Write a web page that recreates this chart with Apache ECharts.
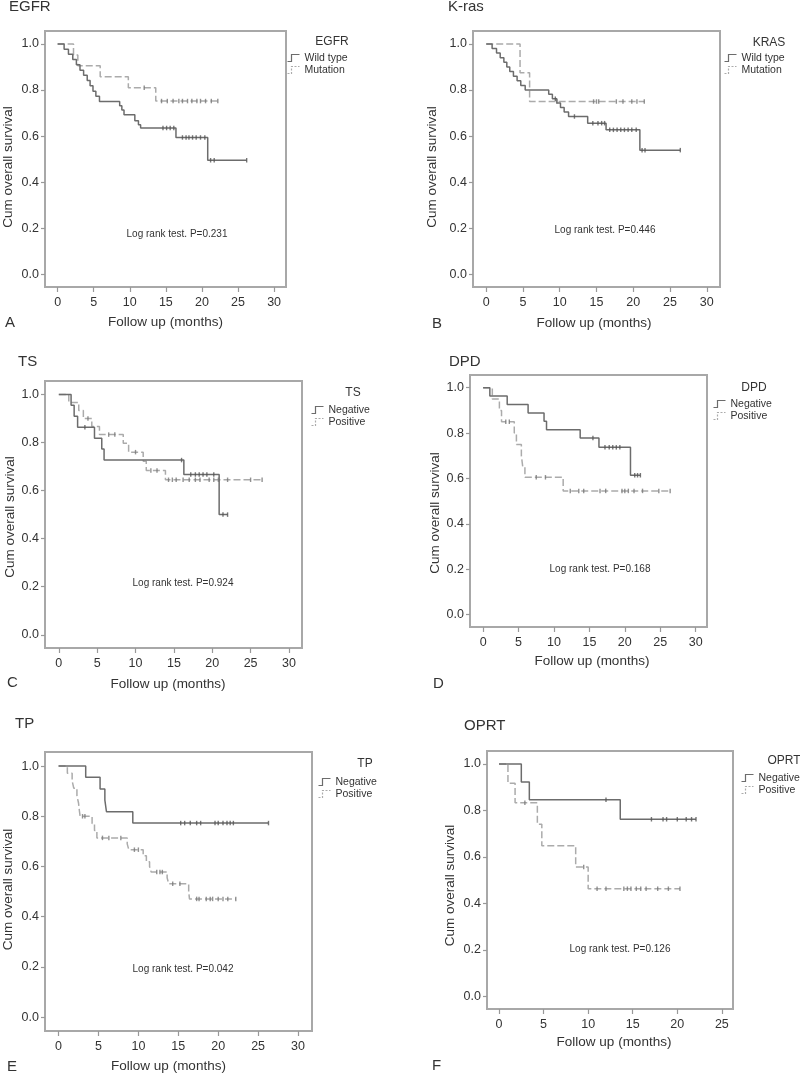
<!DOCTYPE html>
<html><head><meta charset="utf-8">
<script src="https://cdn.jsdelivr.net/npm/echarts@6/dist/echarts.min.js"></script>
<style>html,body{margin:0;padding:0;background:#fff}#c{width:800px;height:1074px}</style>
</head><body><div id="c"></div>
<script>
// ---------------- DATA ----------------
const panelTitles = ['EGFR', 'K-ras', 'TS', 'DPD', 'TP', 'OPRT'];
const legendTitles = ['EGFR', 'KRAS', 'TS', 'DPD', 'TP', 'OPRT'];
const panelLetters = ['A', 'B', 'C', 'D', 'E', 'F'];
const groupNames = [['Wild type', 'Mutation'], ['Wild type', 'Mutation'], ['Negative', 'Positive'], ['Negative', 'Positive'], ['Negative', 'Positive'], ['Negative', 'Positive']];
const logRankTexts = ['Log rank test. P=0.231', 'Log rank test. P=0.446', 'Log rank test. P=0.924', 'Log rank test. P=0.168', 'Log rank test. P=0.042', 'Log rank test. P=0.126'];
const xAxisTitle = 'Follow up (months)';
const yAxisTitle = 'Cum overall survival';
const xTicks30 = [0, 5, 10, 15, 20, 25, 30];
const xTicks25 = [0, 5, 10, 15, 20, 25];
const yTicks = [0, 0.2, 0.4, 0.6, 0.8, 1.0];

// A: EGFR
const egfrWildTime = [0, 0.9, 1.5, 2.1, 2.6, 3.1, 3.6, 4.1, 4.5, 4.9, 5.3, 5.8, 8.6, 8.9, 9.2, 10.7, 11.2, 11.5, 16.4, 20.8, 26.2];
const egfrWildSurv = [1, 0.977, 0.955, 0.932, 0.909, 0.886, 0.864, 0.841, 0.818, 0.795, 0.773, 0.750, 0.732, 0.713, 0.692, 0.666, 0.649, 0.635, 0.594, 0.495, 0.495];
const egfrWildCensor = [[14.6, 0.635], [15.1, 0.635], [15.6, 0.635], [16.1, 0.635], [17.3, 0.594], [17.8, 0.594], [18.2, 0.594], [18.7, 0.594], [19.2, 0.594], [19.8, 0.594], [20.4, 0.594], [21.2, 0.495], [21.7, 0.495], [26.2, 0.495]];
const egfrMutTime = [0, 2.2, 2.8, 5.9, 9.8, 13.6, 22.2];
const egfrMutSurv = [1, 0.952, 0.905, 0.857, 0.810, 0.752, 0.752];
const egfrMutCensor = [[12.0, 0.810], [14.4, 0.752], [15.2, 0.752], [16.0, 0.752], [16.8, 0.752], [17.3, 0.752], [18.0, 0.752], [18.6, 0.752], [19.3, 0.752], [19.8, 0.752], [20.5, 0.752], [21.3, 0.752], [22.2, 0.752]];

// B: K-ras
const krasWildTime = [0, 0.8, 1.4, 1.9, 2.4, 2.8, 3.2, 3.7, 4.2, 4.7, 5.3, 8.5, 9.0, 9.6, 10.1, 10.6, 11.2, 13.8, 16.3, 20.9, 26.4];
const krasWildSurv = [1, 0.98, 0.96, 0.94, 0.92, 0.90, 0.88, 0.86, 0.84, 0.82, 0.80, 0.781, 0.762, 0.743, 0.724, 0.705, 0.685, 0.656, 0.627, 0.539, 0.539];
const krasWildCensor = [[9.4, 0.762], [12.0, 0.685], [14.5, 0.656], [15.2, 0.656], [15.7, 0.656], [16.1, 0.656], [16.8, 0.627], [17.3, 0.627], [17.8, 0.627], [18.3, 0.627], [18.8, 0.627], [19.3, 0.627], [19.8, 0.627], [20.4, 0.627], [21.2, 0.539], [21.6, 0.539], [26.4, 0.539]];
const krasMutTime = [0, 4.6, 5.9, 21.5];
const krasMutSurv = [1, 0.875, 0.75, 0.75];
const krasMutCensor = [[9.6, 0.75], [14.6, 0.75], [15.0, 0.75], [15.3, 0.75], [17.7, 0.75], [18.6, 0.75], [19.8, 0.75], [20.5, 0.75], [21.5, 0.75]];

// C: TS
const tsNegTime = [0, 1.6, 2.0, 2.45, 4.65, 5.6, 5.9, 16.3, 20.9, 22.0];
const tsNegSurv = [1, 0.955, 0.909, 0.864, 0.818, 0.773, 0.727, 0.667, 0.500, 0.500];
const tsNegCensor = [[3.4, 0.864], [16.0, 0.727], [17.2, 0.667], [17.8, 0.667], [18.3, 0.667], [18.8, 0.667], [19.3, 0.667], [20.2, 0.667], [21.4, 0.500], [22.0, 0.500]];
const tsPosTime = [0, 1.3, 2.6, 3.2, 4.3, 5.3, 8.4, 9.1, 11.0, 11.4, 13.9, 26.5];
const tsPosSurv = [1, 0.967, 0.933, 0.900, 0.867, 0.833, 0.797, 0.760, 0.722, 0.684, 0.645, 0.645];
const tsPosCensor = [[3.8, 0.900], [6.5, 0.833], [7.3, 0.833], [10.0, 0.760], [12.0, 0.684], [12.8, 0.684], [14.3, 0.645], [14.8, 0.645], [15.3, 0.645], [16.2, 0.645], [17.0, 0.645], [17.8, 0.645], [18.4, 0.645], [19.6, 0.645], [20.2, 0.645], [20.8, 0.645], [22.0, 0.645], [25.0, 0.645], [26.5, 0.645]];

// D: DPD
const dpdNegTime = [0, 0.95, 3.4, 6.35, 8.6, 8.95, 13.7, 16.35, 20.8, 22.2];
const dpdNegSurv = [1, 0.963, 0.926, 0.889, 0.852, 0.815, 0.778, 0.737, 0.614, 0.614];
const dpdNegCensor = [[15.5, 0.778], [17.2, 0.737], [17.8, 0.737], [18.3, 0.737], [18.8, 0.737], [19.3, 0.737], [21.4, 0.614], [21.8, 0.614], [22.2, 0.614]];
const dpdPosTime = [0, 1.3, 2.3, 2.6, 4.4, 4.7, 5.4, 5.6, 5.9, 11.3, 26.4];
const dpdPosSurv = [1, 0.95, 0.90, 0.85, 0.80, 0.75, 0.70, 0.65, 0.605, 0.545, 0.545];
const dpdPosCensor = [[3.2, 0.85], [3.7, 0.85], [7.5, 0.605], [8.8, 0.605], [12.3, 0.545], [13.5, 0.545], [14.2, 0.545], [16.5, 0.545], [17.3, 0.545], [19.6, 0.545], [20.0, 0.545], [20.5, 0.545], [21.3, 0.545], [22.5, 0.545], [24.8, 0.545], [26.4, 0.545]];

// E: TP
const tpNegTime = [0, 3.4, 5.2, 5.8, 6.0, 9.3, 26.3];
const tpNegSurv = [1, 0.955, 0.909, 0.864, 0.818, 0.773, 0.773];
const tpNegCensor = [[15.3, 0.773], [15.8, 0.773], [16.5, 0.773], [17.3, 0.773], [17.8, 0.773], [19.6, 0.773], [20.0, 0.773], [20.6, 0.773], [21.1, 0.773], [21.5, 0.773], [21.9, 0.773], [26.3, 0.773]];
const tpPosTime = [0, 1.1, 1.7, 1.9, 2.3, 2.5, 2.6, 2.7, 4.2, 4.5, 4.8, 8.6, 8.8, 10.6, 11.0, 11.4, 11.6, 13.6, 13.8, 16.3, 16.4, 22.2];
const tpPosSurv = [1, 0.971, 0.941, 0.912, 0.882, 0.853, 0.824, 0.800, 0.771, 0.743, 0.714, 0.690, 0.667, 0.643, 0.619, 0.600, 0.578, 0.555, 0.531, 0.500, 0.471, 0.471];
const tpPosCensor = [[3.0, 0.800], [3.3, 0.800], [5.5, 0.714], [6.3, 0.714], [7.8, 0.714], [9.5, 0.667], [10.0, 0.667], [12.3, 0.578], [12.7, 0.578], [13.0, 0.578], [14.3, 0.531], [15.2, 0.531], [17.3, 0.471], [17.6, 0.471], [18.5, 0.471], [19.0, 0.471], [19.3, 0.471], [20.0, 0.471], [20.6, 0.471], [21.2, 0.471], [22.2, 0.471]];

// F: OPRT
const oprtNegTime = [0, 2.5, 3.4, 13.6, 22.1];
const oprtNegSurv = [1, 0.923, 0.846, 0.762, 0.762];
const oprtNegCensor = [[12.0, 0.846], [17.1, 0.762], [18.4, 0.762], [18.8, 0.762], [20.0, 0.762], [21.0, 0.762], [21.6, 0.762], [22.1, 0.762]];
const oprtPosTime = [0, 1.0, 1.8, 4.3, 4.8, 8.6, 10.0, 20.3];
const oprtPosSurv = [1, 0.917, 0.833, 0.741, 0.648, 0.556, 0.463, 0.463];
const oprtPosCensor = [[2.9, 0.833], [9.5, 0.556], [11.0, 0.463], [12.0, 0.463], [14.0, 0.463], [14.4, 0.463], [14.8, 0.463], [15.4, 0.463], [15.9, 0.463], [16.5, 0.463], [17.8, 0.463], [19.0, 0.463], [20.3, 0.463]];

const curves = [
  [[egfrWildTime, egfrWildSurv, egfrWildCensor], [egfrMutTime, egfrMutSurv, egfrMutCensor]],
  [[krasWildTime, krasWildSurv, krasWildCensor], [krasMutTime, krasMutSurv, krasMutCensor]],
  [[tsNegTime, tsNegSurv, tsNegCensor], [tsPosTime, tsPosSurv, tsPosCensor]],
  [[dpdNegTime, dpdNegSurv, dpdNegCensor], [dpdPosTime, dpdPosSurv, dpdPosCensor]],
  [[tpNegTime, tpNegSurv, tpNegCensor], [tpPosTime, tpPosSurv, tpPosCensor]],
  [[oprtNegTime, oprtNegSurv, oprtNegCensor], [oprtPosTime, oprtPosSurv, oprtPosCensor]]
];

// ---------------- LAYOUT ----------------
const FONT = '"Liberation Sans", Arial, sans-serif';
const TXT = '#333';
const layouts = [
  { grid: [43, 31, 243, 256], x: [-1.75, 31.65], xt: xTicks30, xGap: 28, xShift: 0, yGap: 30, yShift: 8,
    title: [9, 7], letter: [5, 323], logrank: [177, 234], legT: [332, 42], leg: [285, 52] },
  { grid: [473, 31, 247, 256], x: [-1.8, 31.8], xt: xTicks30, xGap: 29, xShift: -2.5, yGap: 34, yShift: 8,
    title: [448, 7], letter: [432, 324], logrank: [605, 230], legT: [769, 43], leg: [722, 52] },
  { grid: [45, 381, 257, 267], x: [-1.8, 31.7], xt: xTicks30, xGap: 29, xShift: -5.5, yGap: 28, yShift: 2.5,
    title: [18, 362], letter: [7, 683], logrank: [183, 583], legT: [353, 393], leg: [309, 404] },
  { grid: [470, 375, 237, 252], x: [-1.85, 31.6], xt: xTicks30, xGap: 27, xShift: 3.5, yGap: 28, yShift: 12,
    title: [449, 362], letter: [433, 684], logrank: [600, 569], legT: [754, 388], leg: [711, 398] },
  { grid: [44, 752, 268, 280], x: [-1.7, 31.75], xt: xTicks30, xGap: 28, xShift: -10, yGap: 30, yShift: -2,
    title: [15, 724], letter: [7, 1067], logrank: [183, 969], legT: [365, 764], leg: [316, 776] },
  { grid: [487, 751, 246, 258], x: [-1.35, 26.25], xt: xTicks25, xGap: 26, xShift: 4, yGap: 30, yShift: 5.5,
    title: [464, 726], letter: [432, 1066], logrank: [620, 949], legT: [784, 761], leg: [739, 772] }
];
const yRange = [-0.055, 1.056];
const lineColors = ['#6c6c6c', '#ababab'];
const lineTypes = ['solid', [7, 3]];
const legendIcon = 'path://M0,8 L4,8 L4,1 L12,1';

const grids = [], xAxes = [], yAxes = [], series = [], legends = [], graphics = [];
layouts.forEach((L, i) => {
  grids.push({ left: L.grid[0], top: L.grid[1], width: L.grid[2], height: L.grid[3], show: true,
    borderColor: '#a8a8a8', borderWidth: 2, backgroundColor: 'transparent', containLabel: false });
  const xs = L.xShift, ys = L.yShift;
  xAxes.push({ type: 'value', gridIndex: i, min: L.x[0], max: L.x[1],
    axisLine: { show: false, onZero: false },
    axisTick: { show: true, length: 5, customValues: L.xt, lineStyle: { color: '#999', width: 1.2 } },
    axisLabel: { customValues: L.xt, margin: 9, fontSize: 12.5, color: TXT, fontFamily: FONT },
    splitLine: { show: false },
    name: xAxisTitle, nameLocation: 'middle', nameGap: L.xGap,
    nameTextStyle: { fontSize: 13.5, color: TXT, fontFamily: FONT,
      padding: xs < 0 ? [0, -2 * xs, 0, 0] : [0, 0, 0, 2 * xs] } });
  yAxes.push({ type: 'value', gridIndex: i, min: yRange[0], max: yRange[1],
    axisLine: { show: false, onZero: false },
    axisTick: { show: true, length: 4, customValues: yTicks, lineStyle: { color: '#999', width: 1.2 } },
    axisLabel: { customValues: yTicks, margin: 6, fontSize: 12.5, color: TXT, fontFamily: FONT,
      formatter: v => v.toFixed(1) },
    splitLine: { show: false },
    name: yAxisTitle, nameLocation: 'middle', nameGap: L.yGap,
    nameTextStyle: { fontSize: 13.5, color: TXT, fontFamily: FONT,
      padding: ys > 0 ? [0, 2 * ys, 0, 0] : [0, 0, 0, -2 * ys] } });

  curves[i].forEach((c, k) => {
    const name = groupNames[i][k];
    series.push({ type: 'line', name: name, xAxisIndex: i, yAxisIndex: i, step: 'end',
      symbol: 'none', showSymbol: false, silent: true,
      data: c[0].map((t, j) => [t, c[1][j]]),
      lineStyle: { color: lineColors[k], width: 1.5, type: lineTypes[k] },
      itemStyle: { color: lineColors[k] }, z: 3 - k });
    series.push({ type: 'scatter', name: name + ' censored', xAxisIndex: i, yAxisIndex: i,
      symbol: 'rect', symbolSize: [1.4, 4.5], silent: true, data: c[2],
      itemStyle: { color: k === 0 ? '#555' : '#777' }, z: 4 });
  });

  legends.push({ left: L.leg[0], top: L.leg[1], orient: 'vertical', padding: 0, itemGap: 0,
    itemWidth: 12, itemHeight: 8, selectedMode: false,
    textStyle: { fontSize: 10.5, color: TXT, fontFamily: FONT, lineHeight: 10 },
    data: groupNames[i].map((n, k) => ({ name: n, icon: legendIcon,
      itemStyle: { color: 'none', borderColor: lineColors[k], borderWidth: 1.2,
        borderType: k === 0 ? 'solid' : [2, 1.5] } })) });

  graphics.push({ type: 'text', x: L.title[0], y: L.title[1],
    style: { text: panelTitles[i], fill: TXT, font: '15px ' + FONT, align: 'left', verticalAlign: 'middle' } });
  graphics.push({ type: 'text', x: L.letter[0], y: L.letter[1],
    style: { text: panelLetters[i], fill: TXT, font: '15px ' + FONT, align: 'left', verticalAlign: 'middle' } });
  graphics.push({ type: 'text', x: L.logrank[0], y: L.logrank[1],
    style: { text: logRankTexts[i], fill: TXT, font: '10px ' + FONT, align: 'center', verticalAlign: 'middle' } });
  graphics.push({ type: 'text', x: L.legT[0], y: L.legT[1],
    style: { text: legendTitles[i], fill: TXT, font: '12px ' + FONT, align: 'center', verticalAlign: 'middle' } });
});

const chart = echarts.init(document.getElementById('c'), null, { renderer: 'canvas' });
chart.setOption({
  animation: false,
  backgroundColor: '#fff',
  textStyle: { fontFamily: FONT },
  grid: grids, xAxis: xAxes, yAxis: yAxes, series: series, legend: legends, graphic: graphics
});
</script></body></html>
